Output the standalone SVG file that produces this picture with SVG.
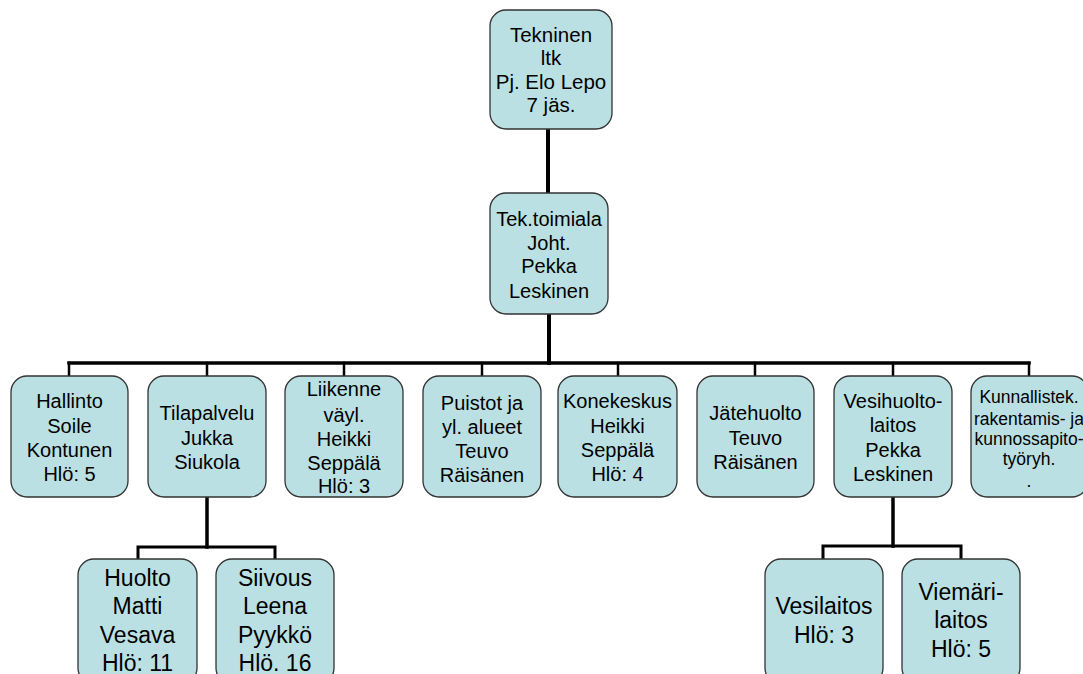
<svg xmlns="http://www.w3.org/2000/svg" width="1083" height="674" viewBox="0 0 1083 674">
<style>
.box{fill:#bbe0e3;stroke:#333;stroke-width:1.3}
text{font-family:"Liberation Sans",Arial,sans-serif;font-size:20px;fill:#000;text-anchor:middle}
.top{font-size:20.5px}
.sm{font-size:17.5px}
.lg{font-size:23px}
.c{stroke:#000;fill:none;stroke-linecap:square}
</style>
<rect width="1083" height="674" fill="#fff"/>
<g id="connectors">
<line class="c" x1="548" y1="129" x2="548" y2="193" stroke-width="4"/>
<line class="c" x1="549" y1="314" x2="549" y2="363" stroke-width="4"/>
<line class="c" x1="69" y1="363" x2="1029" y2="363" stroke-width="3.5"/>
<g stroke-width="2.5" class="c">
<line x1="69" y1="363" x2="69" y2="376"/>
<line x1="207" y1="363" x2="207" y2="376"/>
<line x1="344" y1="363" x2="344" y2="376"/>
<line x1="482" y1="363" x2="482" y2="376"/>
<line x1="618" y1="363" x2="618" y2="376"/>
<line x1="755" y1="363" x2="755" y2="376"/>
<line x1="893" y1="363" x2="893" y2="376"/>
<line x1="1029" y1="363" x2="1029" y2="376"/>
</g>
<line class="c" x1="207" y1="497" x2="207" y2="547" stroke-width="3.5"/>
<polyline class="c" points="138,559 138,547 275,547 275,559" stroke-width="3"/>
<line class="c" x1="893" y1="497" x2="893" y2="546" stroke-width="3.5"/>
<polyline class="c" points="823,559 823,546 961,546 961,559" stroke-width="3"/>
</g>
<g id="n-tekninen-ltk">
<rect class="box" x="490" y="10" width="122" height="119" rx="16"/>
<text class="top" x="551" y="42">Tekninen</text>
<text class="top" x="551" y="65">ltk</text>
<text class="top" x="551" y="89">Pj. Elo Lepo</text>
<text class="top" x="551" y="112">7 jäs.</text>
</g>
<g id="n-tektoimiala">
<rect class="box" x="490" y="193" width="118" height="121" rx="16"/>
<text x="549" y="226">Tek.toimiala</text>
<text x="549" y="250">Joht.</text>
<text x="549" y="273">Pekka</text>
<text x="549" y="298">Leskinen</text>
</g>
<g id="n-hallinto">
<rect class="box" x="11" y="376" width="117" height="121" rx="16"/>
<text x="69.5" y="408">Hallinto</text>
<text x="69.5" y="433">Soile</text>
<text x="69.5" y="457">Kontunen</text>
<text x="69.5" y="481">Hlö: 5</text>
</g>
<g id="n-tilapalvelu">
<rect class="box" x="148" y="376" width="118" height="121" rx="16"/>
<text x="207" y="420">Tilapalvelu</text>
<text x="207" y="445">Jukka</text>
<text x="207" y="469">Siukola</text>
</g>
<g id="n-liikenne">
<rect class="box" x="285" y="376" width="118" height="121" rx="16"/>
<text x="344" y="396">Liikenne</text>
<text x="344" y="422">väyl.</text>
<text x="344" y="446">Heikki</text>
<text x="344" y="470">Seppälä</text>
<text x="344" y="493">Hlö: 3</text>
</g>
<g id="n-puistot">
<rect class="box" x="423" y="376" width="118" height="121" rx="16"/>
<text x="482" y="410">Puistot ja</text>
<text x="482" y="434">yl. alueet</text>
<text x="482" y="458">Teuvo</text>
<text x="482" y="482">Räisänen</text>
</g>
<g id="n-konekeskus">
<rect class="box" x="558" y="376" width="119" height="121" rx="16"/>
<text x="617.5" y="408">Konekeskus</text>
<text x="617.5" y="433">Heikki</text>
<text x="617.5" y="457">Seppälä</text>
<text x="617.5" y="481">Hlö: 4</text>
</g>
<g id="n-jatehuolto">
<rect class="box" x="697" y="376" width="117" height="121" rx="16"/>
<text x="755.5" y="420">Jätehuolto</text>
<text x="755.5" y="445">Teuvo</text>
<text x="755.5" y="469">Räisänen</text>
</g>
<g id="n-vesihuolto">
<rect class="box" x="834" y="376" width="118" height="121" rx="16"/>
<text x="893" y="408">Vesihuolto-</text>
<text x="893" y="432">laitos</text>
<text x="893" y="457">Pekka</text>
<text x="893" y="481">Leskinen</text>
</g>
<g id="n-kunnallistek">
<rect class="box" x="971" y="376" width="117" height="121" rx="16"/>
<text class="sm" x="1029" y="403">Kunnallistek.</text>
<text class="sm" x="1029" y="425">rakentamis- ja</text>
<text class="sm" x="1029" y="445">kunnossapito-</text>
<text class="sm" x="1029" y="465">työryh.</text>
<text class="sm" x="1029" y="487">.</text>
</g>
<g id="n-huolto">
<rect class="box" x="78" y="559" width="119" height="125" rx="16"/>
<text class="lg" x="137.5" y="586">Huolto</text>
<text class="lg" x="137.5" y="614">Matti</text>
<text class="lg" x="137.5" y="643">Vesava</text>
<text class="lg" x="137.5" y="671">Hlö: 11</text>
</g>
<g id="n-siivous">
<rect class="box" x="216" y="559" width="118" height="125" rx="16"/>
<text class="lg" x="275" y="586">Siivous</text>
<text class="lg" x="275" y="614">Leena</text>
<text class="lg" x="275" y="643">Pyykkö</text>
<text class="lg" x="275" y="671">Hlö. 16</text>
</g>
<g id="n-vesilaitos">
<rect class="box" x="765" y="559" width="118" height="125" rx="16"/>
<text class="lg" x="824" y="614">Vesilaitos</text>
<text class="lg" x="824" y="643">Hlö: 3</text>
</g>
<g id="n-viemarilaitos">
<rect class="box" x="902" y="559" width="118" height="125" rx="16"/>
<text class="lg" x="961" y="600">Viemäri-</text>
<text class="lg" x="961" y="628">laitos</text>
<text class="lg" x="961" y="657">Hlö: 5</text>
</g>
</svg>
